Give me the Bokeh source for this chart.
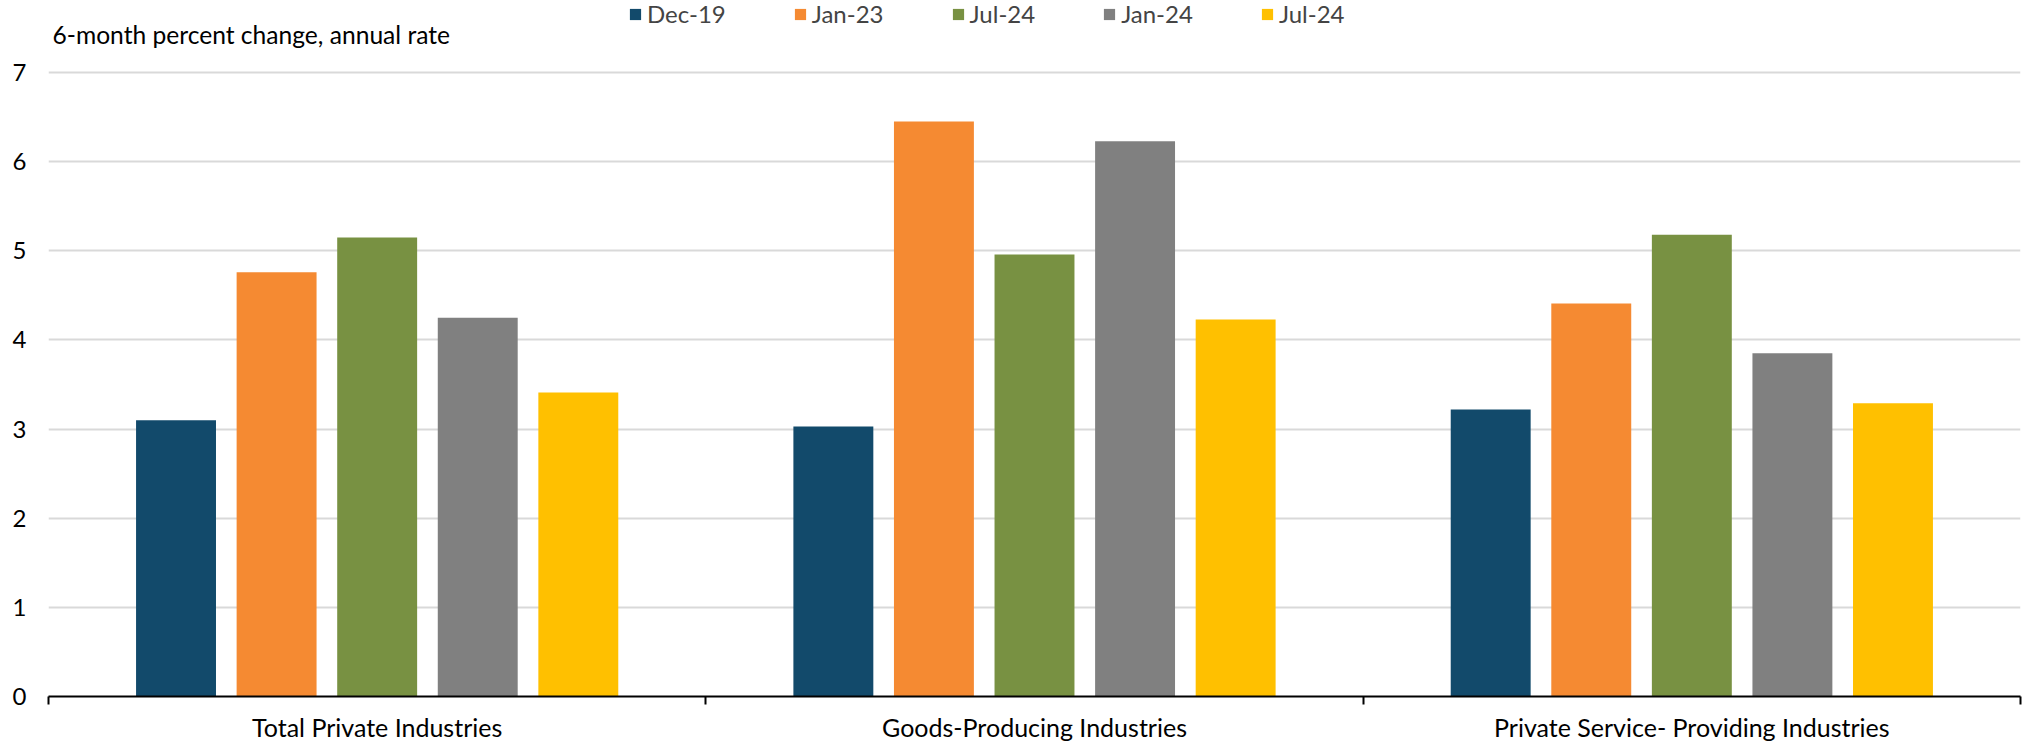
from bokeh.plotting import figure
from bokeh.models import (ColumnDataSource, FixedTicker, Legend, LegendItem, Label,
                          Range1d)
from bokeh.embed import file_html
from bokeh.resources import INLINE

# ---- data ----
categories = ["Total Private Industries", "Goods-Producing Industries",
              "Private Service- Providing Industries"]
series_names = ["Dec-19", "Jan-23", "Jul-24", "Jan-24", "Jul-24"]
dec19 = [3.10, 3.03, 3.22]
jan23 = [4.76, 6.45, 4.41]
jul24_a = [5.15, 4.96, 5.18]
jan24 = [4.25, 6.23, 3.85]
jul24_b = [3.41, 4.23, 3.29]
y_ticks = [0, 1, 2, 3, 4, 5, 6, 7]
y_title = "6-month percent change, annual rate"

series_values = [dec19, jan23, jul24_a, jan24, jul24_b]
colors = ["#124A6B", "#F58A32", "#789142", "#808080", "#FFC000"]

FONT = "Lato"
W, H = 2023, 744
FS = "24px"

# frame spans from the canvas top down to the zero line; headroom above 7
p = figure(width=W, height=H, output_backend="svg", toolbar_location=None,
           x_range=Range1d(0, len(categories)), y_range=Range1d(0, 7.809),
           min_border_left=48, min_border_right=3, min_border_top=0,
           min_border_bottom=46)
p.outline_line_color = None
p.background_fill_color = None
p.border_fill_color = "white"

step = 0.153
bar_w = 0.1216
renderers = []
for j, (name, vals, col) in enumerate(zip(series_names, series_values, colors)):
    xs = [i + 0.5 + (j - 2) * step for i in range(len(categories))]
    src = ColumnDataSource(dict(x=xs, top=vals))
    r = p.vbar(x="x", top="top", width=bar_w, source=src, fill_color=col,
               line_color=None)
    renderers.append(r)

# y axis
p.yaxis.ticker = FixedTicker(ticks=y_ticks)
p.yaxis.axis_line_color = None
p.yaxis.major_tick_line_color = None
p.yaxis.minor_tick_line_color = None
p.yaxis.major_tick_out = 0
p.yaxis.major_label_standoff = 22
p.yaxis.major_label_text_font = FONT
p.yaxis.major_label_text_font_size = FS
p.yaxis.major_label_text_color = "#000000"

p.ygrid.ticker = FixedTicker(ticks=y_ticks[1:])
p.ygrid.grid_line_color = "#D9D9D9"
p.ygrid.grid_line_width = 2
p.xgrid.grid_line_color = None

# x axis: labels at category centres, tick marks at boundaries
centers = [i + 0.5 for i in range(len(categories))]
bounds = [i for i in range(len(categories) + 1)]
p.xaxis.ticker = FixedTicker(ticks=centers, minor_ticks=bounds)
p.xaxis.major_label_overrides = {c: lab for c, lab in zip(centers, categories)}
p.xaxis.major_tick_line_color = None
p.xaxis.major_tick_out = 0
p.xaxis.major_tick_in = 0
p.xaxis.minor_tick_out = 8
p.xaxis.minor_tick_in = 0
p.xaxis.minor_tick_line_color = "black"
p.xaxis.minor_tick_line_width = 2
p.xaxis.axis_line_color = "black"
p.xaxis.axis_line_width = 2
p.xaxis.major_label_standoff = 7
p.xaxis.major_label_text_font = FONT
p.xaxis.major_label_text_font_size = "25px"
p.xaxis.major_label_text_color = "#000000"

# legend
items = [LegendItem(label=n, renderers=[r]) for n, r in zip(series_names, renderers)]
legend = Legend(items=items, orientation="horizontal", location=(580, 668),
                background_fill_alpha=0, border_line_color=None,
                label_text_font=FONT, label_text_font_size=FS,
                glyph_width=14, glyph_height=14, label_standoff=5,
                spacing=67, padding=0, margin=0)
p.add_layout(legend, "center")

title = Label(x=4, y=662, x_units="screen", y_units="screen", text=y_title,
              text_font=FONT, text_font_size="24.6px", text_baseline="middle",
              text_color="#000000")
p.add_layout(title)

open("out.html", "w").write(file_html(p, INLINE))
